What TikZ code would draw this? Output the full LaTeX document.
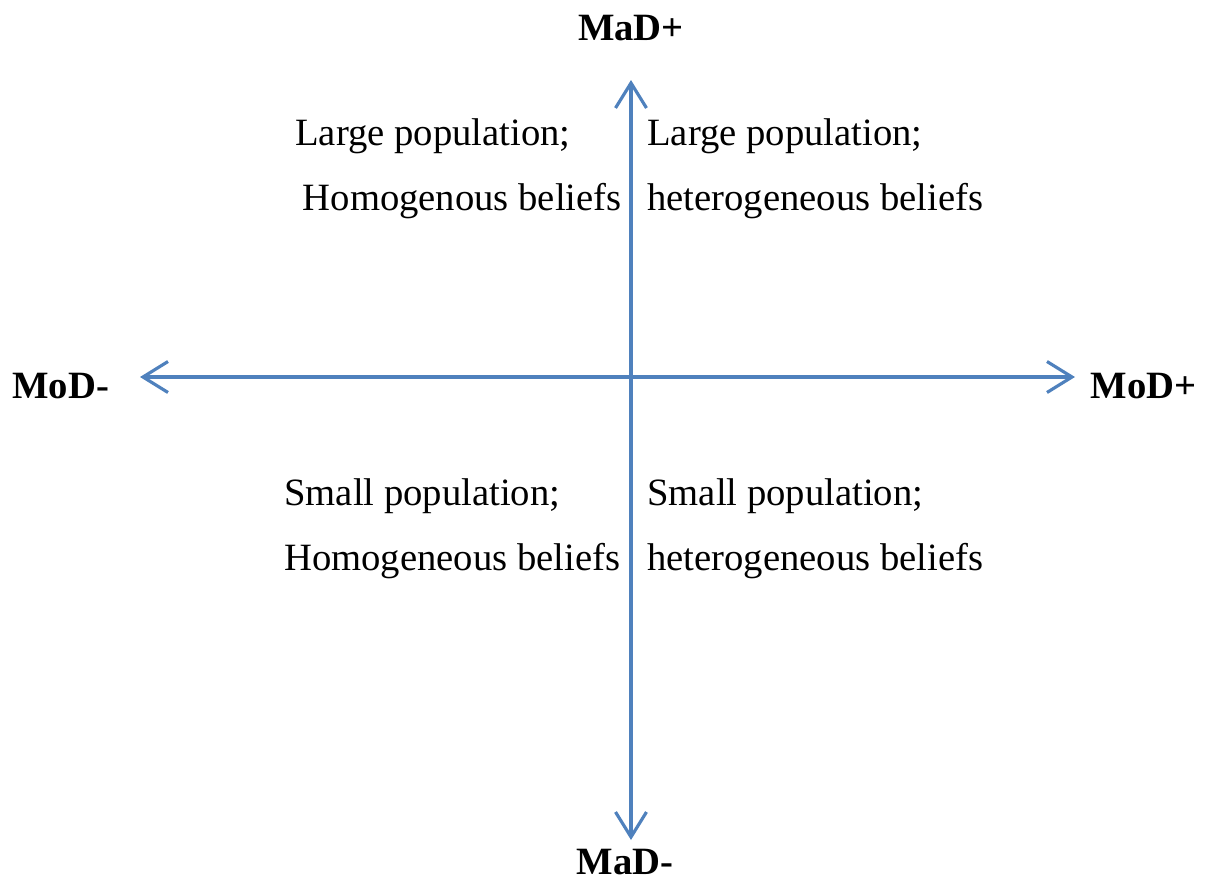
\documentclass[tikz,border=0pt]{standalone}
\usepackage{fontspec}
\setmainfont{Liberation Serif}
\usepackage{xcolor}
\usetikzlibrary{arrows.meta}
\definecolor{axisblue}{HTML}{4F81BD}
\tikzset{
  axis/.style={draw=axisblue, line width=1.8pt, {Straight Barb[length=0.5cm,width=0.62cm,line width=1.8pt]}-{Straight Barb[length=0.5cm,width=0.62cm,line width=1.8pt]}},
  quadtext/.style={inner sep=0pt, font=\fontsize{22}{26}\selectfont},
  axlabel/.style={inner sep=0pt, font=\fontsize{22}{26}\selectfont\bfseries}
}
\begin{document}
\begin{tikzpicture}[x=0.02cm, y=-0.02cm]
\useasboundingbox (0,0) rectangle (1205,883);
\coordinate (top) at (631,80);
\coordinate (bottom) at (631,840);
\coordinate (left) at (140,377);
\coordinate (right) at (1075,377);
\draw [axis] (bottom) -- (top);
\draw [axis] (left) -- (right);
\node [axlabel, anchor=base] (madp) at (631,40) {MaD+};
\node [axlabel, anchor=base] (madm) at (625,874) {MaD-};
\node [axlabel, anchor=base west] (modm) at (12,398) {MoD-};
\node [axlabel, anchor=base east] (modp) at (1197,398) {MoD+};
\node [quadtext, anchor=base west] (tl1) at (295,145) {Large population;};
\node [quadtext, anchor=base east] (tl2) at (622,210) {Homogenous beliefs};
\node [quadtext, anchor=base west] (tr1) at (647,145) {Large population;};
\node [quadtext, anchor=base west] (tr2) at (647,210) {heterogeneous beliefs};
\node [quadtext, anchor=base west] (bl1) at (284,505) {Small population;};
\node [quadtext, anchor=base west] (bl2) at (284,570) {Homogeneous beliefs};
\node [quadtext, anchor=base west] (br1) at (647,505) {Small population;};
\node [quadtext, anchor=base west] (br2) at (647,570) {heterogeneous beliefs};
\end{tikzpicture}
\end{document}
